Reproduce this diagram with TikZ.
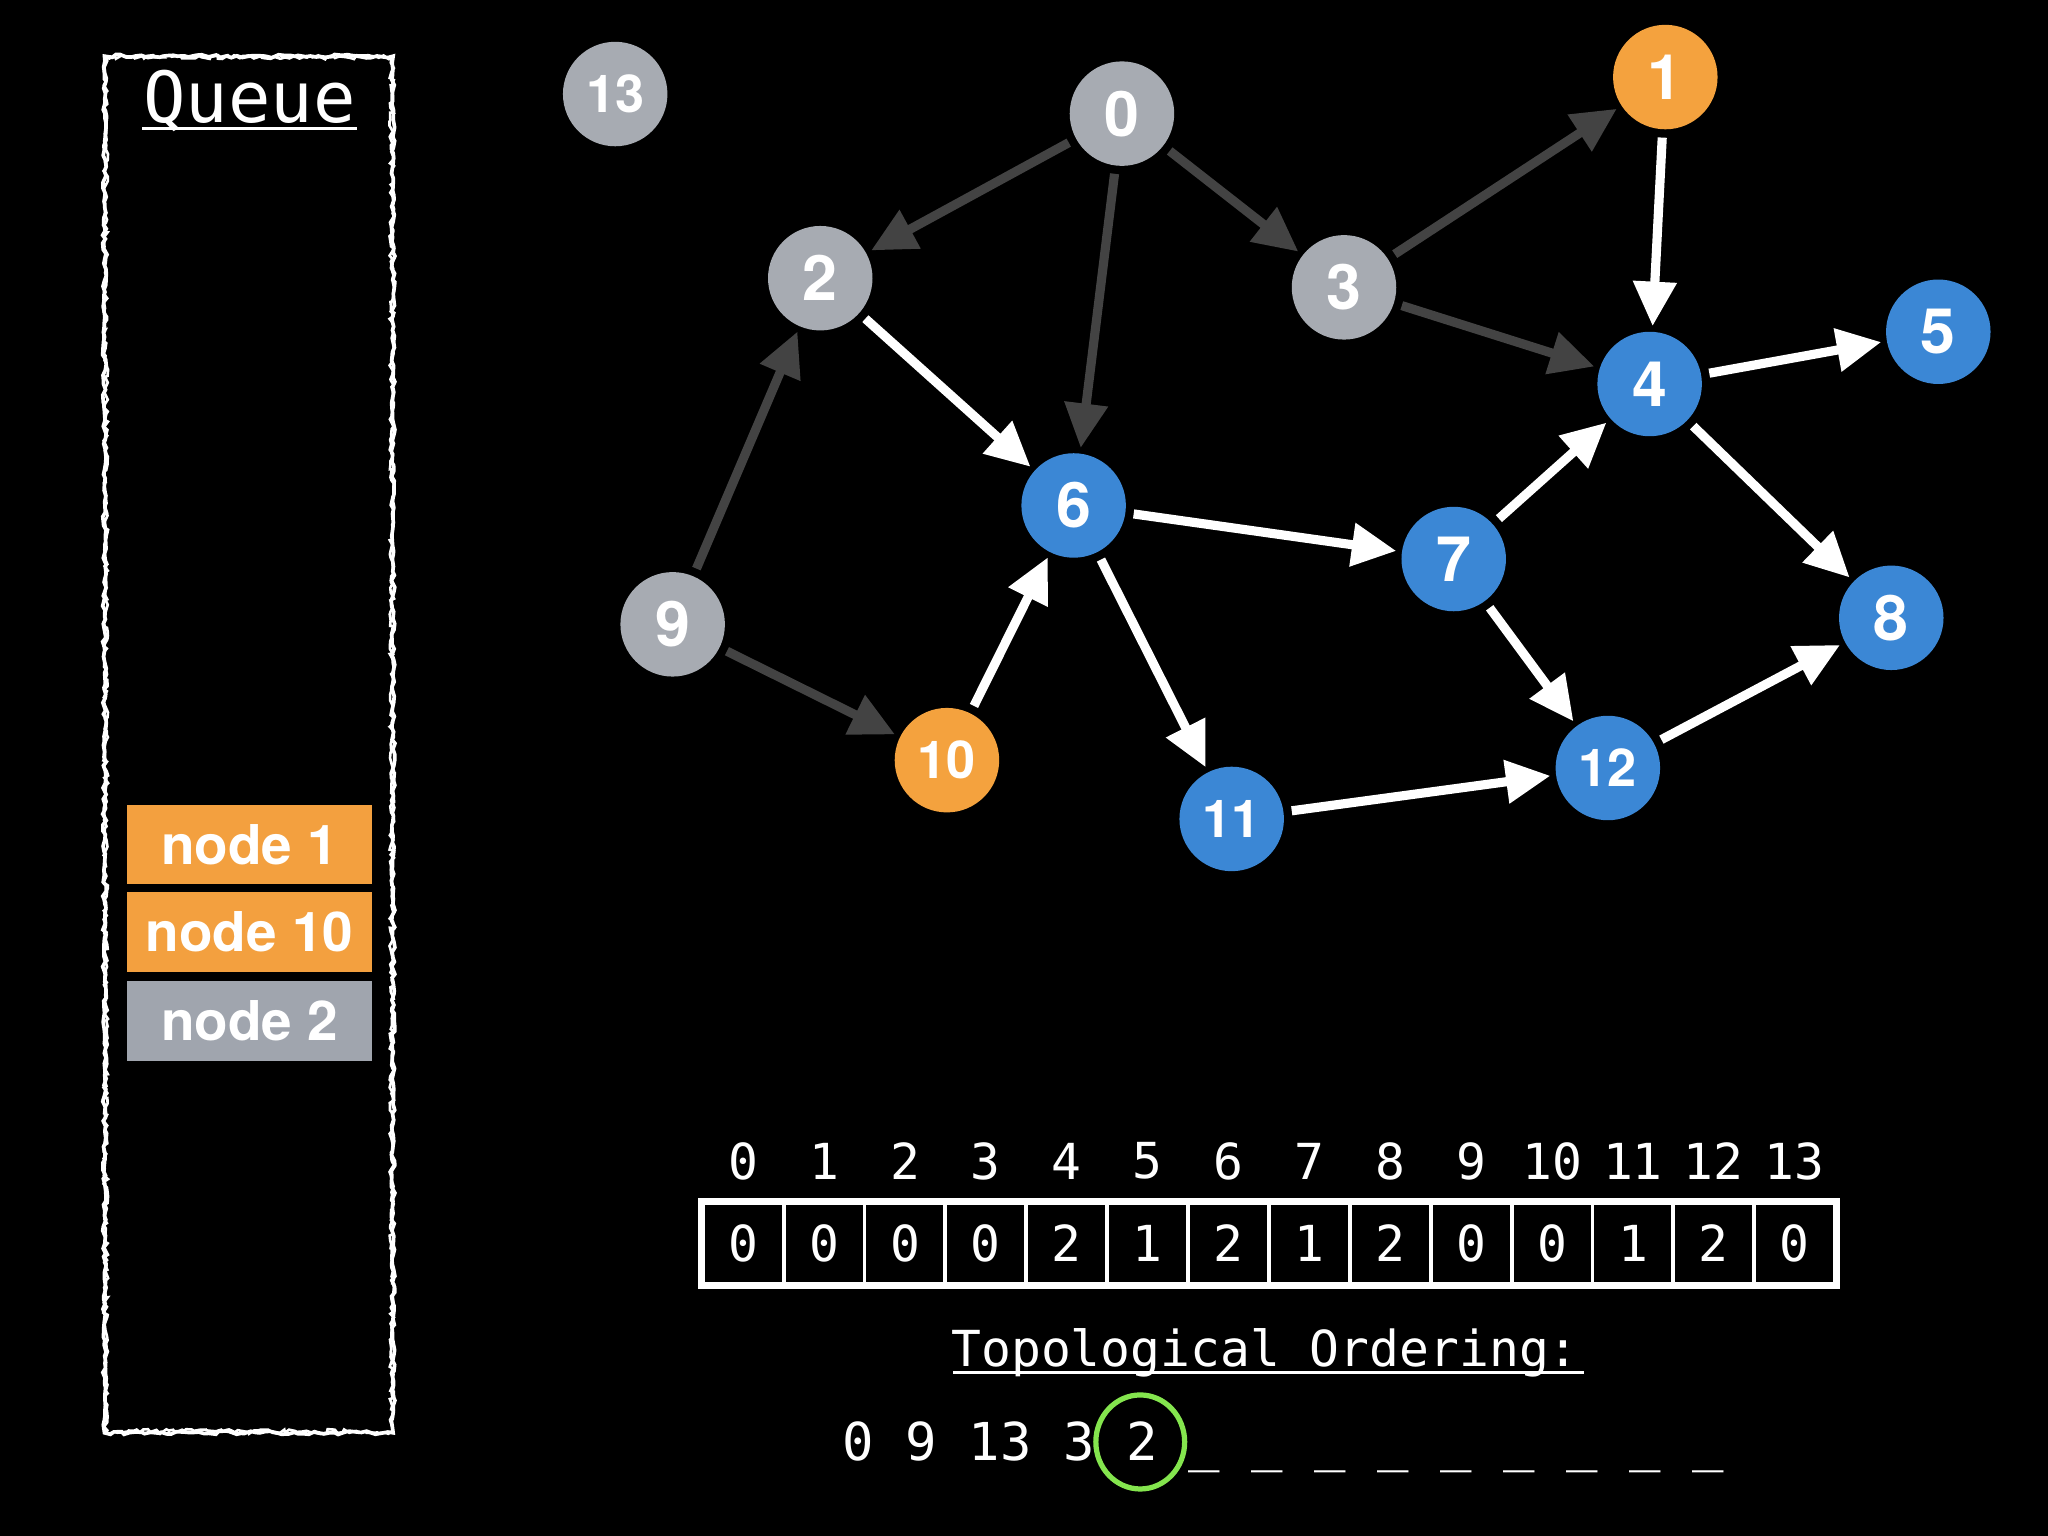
\documentclass[tikz,border=0pt]{standalone}
\usepackage{fontspec}
\usetikzlibrary{arrows.meta,decorations.pathmorphing,shapes.geometric}
\newfontfamily\monof{DejaVu Sans Mono}
\newfontfamily\helv{TeX Gyre Heros}
\definecolor{ngray}{HTML}{A7ABB2}
\definecolor{norange}{HTML}{F4A23E}
\definecolor{nblue}{HTML}{3B87D5}
\definecolor{edgedark}{HTML}{434343}
\definecolor{ngreen}{HTML}{84E54E}
\definecolor{qorange}{HTML}{F3A03F}
\definecolor{qgray}{HTML}{A0A5AE}
\tikzset{
  gnode/.style={circle,minimum size=40pt,inner sep=0pt,text=white,font=\helv\bfseries\fontsize{24}{24}\selectfont},
  gg/.style={gnode,fill=ngray},
  go/.style={gnode,fill=norange},
  gb/.style={gnode,fill=nblue},
  two/.style={font=\helv\bfseries\fontsize{20}{20}\selectfont},
  darkedge/.style={draw=edgedark,line width=3.5pt,-{Triangle[length=17pt,width=16pt]},shorten <=3pt,shorten >=2pt},
  whiteedge/.style={draw=white,line width=3.5pt,-{Triangle[length=17pt,width=16pt]},shorten <=3pt,shorten >=2pt},
  qbox/.style={rectangle,minimum width=94pt,minimum height=30.5pt,inner sep=0pt,text=white,font=\helv\bfseries\fontsize{21}{21}\selectfont},
  cell/.style={rectangle,draw=white,line width=1.5pt,minimum width=30.96pt,minimum height=31pt,inner sep=0pt,text=white,font=\monof\fontsize{19}{19}\selectfont},
  idx/.style={inner sep=0pt,text=white,font=\monof\fontsize{19}{19}\selectfont},
  mono/.style={inner sep=0pt,text=white,font=\monof\fontsize{19}{19}\selectfont},
}
\begin{document}
\begin{tikzpicture}[x=0.5pt,y=-0.5pt]
\fill[black] (0,0) rectangle (1568,1176);
\useasboundingbox (0,0) rectangle (1568,1176);

% Queue frame (chalk)
\pgfmathsetseed{7}
\draw[white,line width=1.4pt,decorate,decoration={random steps,segment length=2pt,amplitude=0.7pt}] (80,43) rectangle (301,1097);
\draw[white,line width=1.0pt,decorate,decoration={random steps,segment length=1.5pt,amplitude=0.9pt}] (81,44) rectangle (300,1096);
\node[anchor=base,inner sep=0pt,text=white,font=\monof\fontsize{27}{27}\selectfont] (qt) at (191,94) {Queue};
\draw[white,line width=1.3pt] (109,98.5) -- (273,98.5);

% Queue contents
\node[qbox,fill=qorange] (q1) at (191,646.5) {node 1};
\node[qbox,fill=qorange] (q10) at (191,713.5) {node 10};
\node[qbox,fill=qgray] (q2) at (191,781.5) {node 2};

% Graph nodes
\node[gg,two] (n13) at (471,72) {13};
\node[gg] (n0) at (859,87) {0};
\node[go] (n1) at (1275,59) {1};
\node[gg] (n2) at (628,213) {2};
\node[gg] (n3) at (1029,220) {3};
\node[gb] (n4) at (1263,294) {4};
\node[gb] (n5) at (1484,254) {5};
\node[gb] (n6) at (822,387) {6};
\node[gb] (n7) at (1113,428) {7};
\node[gb] (n8) at (1448,473) {8};
\node[gg] (n9) at (515,478) {9};
\node[go,two] (n10) at (725,582) {10};
\node[gb,two] (n11) at (943,627) {11};
\node[gb,two] (n12) at (1231,588) {12};

% Processed edges
\draw[darkedge] (n0) -- (n2);
\draw[darkedge] (n0) -- (n6);
\draw[darkedge] (n0) -- (n3);
\draw[darkedge] (n3) -- (n1);
\draw[darkedge] (n3) -- (n4);
\draw[darkedge] (n9) -- (n2);
\draw[darkedge] (n9) -- (n10);

% Remaining edges
\draw[whiteedge] (n1) -- (n4);
\draw[whiteedge] (n2) -- (n6);
\draw[whiteedge] (n10) -- (n6);
\draw[whiteedge] (n6) -- (n7);
\draw[whiteedge] (n6) -- (n11);
\draw[whiteedge] (n7) -- (n4);
\draw[whiteedge] (n7) -- (n12);
\draw[whiteedge] (n4) -- (n5);
\draw[whiteedge] (n4) -- (n8);
\draw[whiteedge] (n12) -- (n8);
\draw[whiteedge] (n11) -- (n12);

% In-degree array
\foreach \v [count=\i from 0] in {0,0,0,0,2,1,2,1,2,0,0,1,2,0}{
  \node[cell] (c\i) at ({569+61.93*\i},952) {\v};
  \node[idx] (i\i) at ({569+61.93*\i},889) {\i};
}
\draw[white,line width=2pt] (c0.north west) rectangle (c13.south east);

% Topological ordering
\node[mono,anchor=base west] (topo) at (728,1046) {Topological Ordering:};
\draw[white,line width=1.2pt] (730,1051) -- (1213,1051);
\node[mono,anchor=base west,font=\monof\fontsize{20}{20}\selectfont] (ord) at (645,1118) {0 9 13 3 2 \_ \_ \_ \_ \_ \_ \_ \_ \_};
\node[ellipse,draw=ngreen,line width=2pt,minimum width=34pt,minimum height=36pt,inner sep=0pt] (hl) at (873,1104) {};
\end{tikzpicture}
\end{document}
